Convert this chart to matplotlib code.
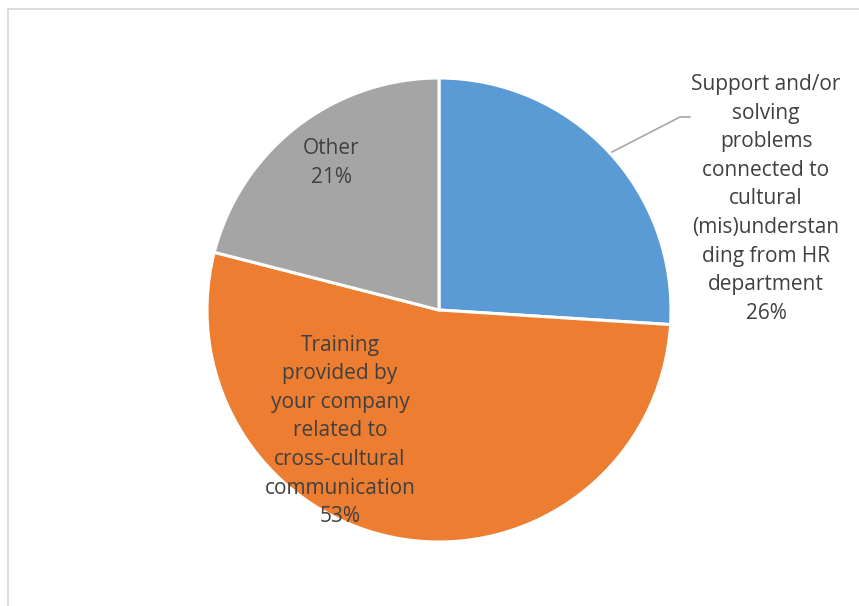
import matplotlib.pyplot as plt
from matplotlib.lines import Line2D

# survey answers, clockwise from 12 o'clock
labels = [
    "Support and/or\nsolving\nproblems\nconnected to\ncultural\n(mis)understan\nding from HR\ndepartment",
    "Training\nprovided by\nyour company\nrelated to\ncross-cultural\ncommunication",
    "Other",
]
shares = [26, 53, 21]
colors = ["#5B9BD5", "#ED7D31", "#A5A5A5"]

W, H = 859, 606
fig = plt.figure(figsize=(W / 100, H / 100), dpi=100)
ax = fig.add_axes([0, 0, 1, 1])

cx, cy, r = 439, H - 310, 232
ax.pie(shares, colors=colors, startangle=90, counterclock=False,
       center=(cx, cy), radius=r, frame=True,
       wedgeprops=dict(edgecolor="white", linewidth=2.2))
ax.set_xlim(0, W)
ax.set_ylim(0, H)
ax.set_aspect("equal")
ax.axis("off")

txt = dict(ha="center", va="center", color="#404040", fontsize=15,
           family="Open Sans", linespacing=1.47)
label_pos = [(766, H - 199), (340, H - 431), (331, H - 163)]
for lab, val, (x, y) in zip(labels, shares, label_pos):
    ax.text(x, y, f"{lab}\n{val}%", **txt)

# leader line for the blue slice
ax.add_line(Line2D([612, 680, 690], [H - 152, H - 117, H - 117],
                   color="#A6A6A6", linewidth=1.2))

# chart area border (only left and top edges fall inside the image)
fig.add_artist(Line2D([7.5 / W, 7.5 / W], [0, 1 - 9 / H], transform=fig.transFigure,
                      color="#D9D9D9", linewidth=1.3))
fig.add_artist(Line2D([7.5 / W, 1], [1 - 9 / H, 1 - 9 / H], transform=fig.transFigure,
                      color="#D9D9D9", linewidth=1.3))

fig.savefig("out.png", dpi=100, facecolor="white")
